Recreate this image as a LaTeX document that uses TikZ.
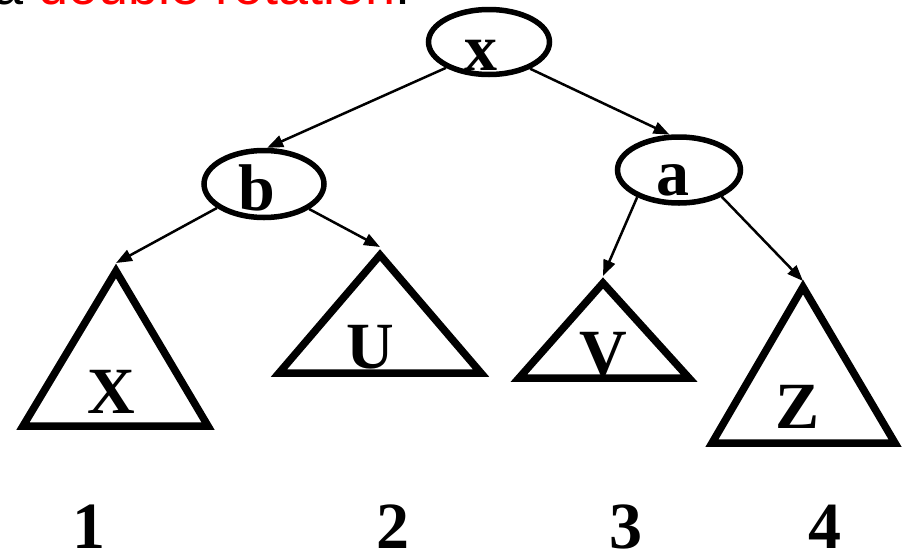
\documentclass[tikz,border=0pt]{standalone}
\usepackage{fontspec}
\setmainfont{Liberation Serif}
\newfontfamily\arialfont{Liberation Sans}
\usetikzlibrary{shapes.geometric,arrows.meta}
\begin{document}
\begin{tikzpicture}[x=1pt,y=-1pt,
  treenode/.style={draw,ellipse,line width=5.5pt,inner sep=0pt},
  subtree/.style={draw,line width=7.5pt,line join=miter,miter limit=10},
  conn/.style={line width=2.5pt,-{Triangle[length=16pt,width=12pt]}},
  lbl/.style={font=\bfseries\fontsize{66}{70}\selectfont,inner sep=0pt,anchor=base},
]
\useasboundingbox (0,0) rectangle (906,552);
\node[anchor=base west,inner sep=0pt,font=\arialfont\fontsize{54}{60}\selectfont] (title) at (-7,4) {a \textcolor{red}{double rotation}:};

% tree nodes
\node[treenode,minimum width=121pt,minimum height=65pt] (nx) at (489,42) {};
\node[treenode,minimum width=120pt,minimum height=67pt] (nb) at (264,184) {};
\node[treenode,minimum width=123pt,minimum height=66pt] (na) at (679,170) {};
\node[lbl] (lx) at (481,70) {x};
\node[lbl] (lb) at (257,210) {b};
\node[lbl] (la) at (673,195) {a};

% subtrees
\draw[subtree] (116,271) -- (208,426) -- (23,426) -- cycle;
\draw[subtree] (380,255) -- (481,373) -- (279,373) -- cycle;
\draw[subtree] (603,283) -- (689,378) -- (519,378) -- cycle;
\draw[subtree] (803,287) -- (895,443) -- (712,443) -- cycle;
\coordinate (tX) at (116,263);
\coordinate (tU) at (380,247);
\coordinate (tV) at (603,276);
\coordinate (tZ) at (803,281);
\node[lbl] (sX) at (111,413) {X};
\node[lbl] (sU) at (370,368) {U};
\node[lbl] (sV) at (603,375) {V};
\node[lbl] (sZ) at (798,428) {Z};

% connectors
\draw[conn] (nx.211) -- (nb.85);
\draw[conn] (nx.-33) -- (na.105);
\draw[conn] (nb.207) -- (tX);
\draw[conn] (nb.-29) -- (tU);
\draw[conn] (na.213) -- (tV);
\draw[conn] (na.-32) -- (tZ);

% numbers
\node[lbl] (d1) at (89,548) {1};
\node[lbl] (d2) at (393,548) {2};
\node[lbl] (d3) at (626,548) {3};
\node[lbl] (d4) at (825,548) {4};
\end{tikzpicture}
\end{document}
